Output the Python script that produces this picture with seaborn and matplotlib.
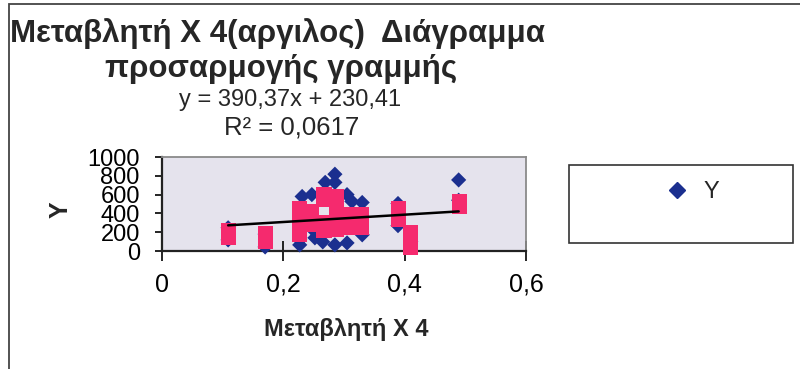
import matplotlib
matplotlib.use("Agg")
import matplotlib.pyplot as plt
from matplotlib import font_manager
from matplotlib.lines import Line2D
from matplotlib.patches import Rectangle
import numpy as np
import pandas as pd
import seaborn as sns

# ---- data -------------------------------------------------------------
# observed Y against clay content (X 4)
y_x = [0.109, 0.109, 0.170, 0.170,
       0.227, 0.227, 0.231, 0.247, 0.249, 0.252,
       0.265, 0.269, 0.285, 0.285, 0.285, 0.290,
       0.305, 0.305, 0.313, 0.330, 0.330,
       0.389, 0.389, 0.410, 0.489, 0.489]
y_val = [247, 118, 43, 180,
         65, 118, 580, 600, 226, 140,
         97, 730, 817, 730, 65, 400,
         600, 86, 527, 516, 172,
         505, 270, 100, 756, 540]

# second series plotted with square markers
p_x = [0.109, 0.109, 0.170, 0.170,
       0.227, 0.227, 0.227, 0.227,
       0.247, 0.247, 0.247,
       0.267, 0.267, 0.267, 0.267, 0.267,
       0.287, 0.287, 0.287, 0.287, 0.287,
       0.310, 0.310, 0.310,
       0.328, 0.328, 0.328,
       0.390, 0.390, 0.410, 0.410, 0.410,
       0.490, 0.490]
p_val = [220, 145, 188, 102,
         449, 360, 270, 181,
         414, 350, 285,
         597, 553, 306, 260, 220,
         575, 490, 400, 310, 231,
         392, 320, 253,
         392, 320, 253,
         446, 339, 199, 120, 38,
         521, 478]

# fitted trend line
slope = 390.37
intercept = 230.41
r_squared = 0.0617

x_ticks = [0, 0.2, 0.4, 0.6]
x_tick_labels = ["0", "0,2", "0,4", "0,6"]
y_ticks = [0, 200, 400, 600, 800, 1000]

title_1 = "Μεταβλητή Χ 4(αργιλος)  Διάγραμμα"
title_2 = "προσαρμογής γραμμής"
x_label = "Μεταβλητή Χ 4"
y_label = "Y"
legend_label = "Y"

# ---- style ------------------------------------------------------------
sns.set_theme(style="white")
names = {f.name for f in font_manager.fontManager.ttflist}
narrow = "Liberation Sans Narrow" if "Liberation Sans Narrow" in names else "Liberation Sans"
plt.rcParams["font.family"] = ["Liberation Sans", "DejaVu Sans"]

navy = "#1B2F8F"
pink = "#F52A6E"

W, H = 800, 369
fig = plt.figure(figsize=(W / 100, H / 100), dpi=100)
fig.patch.set_facecolor("white")

def fx(px):
    return px / W

def fy(py):
    return 1 - py / H

ax = fig.add_axes([fx(162), fy(251), fx(526) - fx(162), fy(157) - fy(251)])
ax.set_facecolor("#E5E3ED")

df_y = pd.DataFrame({"x": y_x, "y": y_val})
df_p = pd.DataFrame({"x": p_x, "y": p_val})
x_line = np.array([min(y_x), max(y_x)])
df_line = pd.DataFrame({"x": x_line, "y": slope * x_line + intercept})

sns.scatterplot(data=df_y, x="x", y="y", marker="D", s=60, color=navy,
                edgecolor="none", ax=ax, zorder=3, clip_on=False)
sns.scatterplot(data=df_p, x="x", y="y", marker="s", s=120, color=pink,
                edgecolor="none", ax=ax, zorder=4, clip_on=False)
sns.lineplot(data=df_line, x="x", y="y", color="black", lw=1.8, ax=ax,
             zorder=5)

ax.set_xlim(0, 0.6)
ax.set_ylim(0, 1000)
ax.set_xticks(x_ticks)
ax.set_xticklabels(x_tick_labels)
ax.set_yticks(y_ticks)
ax.tick_params(axis="x", direction="inout", length=15, width=1.2,
               colors="black", labelsize=18, pad=8, bottom=True)
ax.tick_params(axis="y", direction="out", length=5, width=1.2,
               colors="black", labelsize=17, pad=11, left=True)
for t in ax.get_xticklabels() + ax.get_yticklabels():
    t.set_color("black")

for side in ("left", "bottom"):
    ax.spines[side].set_color("#222222")
    ax.spines[side].set_linewidth(1.6)
for side in ("top", "right"):
    ax.spines[side].set_color("#8A8A8A")
    ax.spines[side].set_linewidth(1.3)

ax.set_xlabel(x_label, fontsize=17, fontweight="bold", family=narrow)
ax.set_ylabel(y_label, fontsize=18, fontweight="bold")
ax.xaxis.set_label_coords((346 - 162) / 364, (251 - 318) / 94)
ax.yaxis.set_label_coords((73 - 162) / 364, (251 - 210) / 94)

# titles and fit annotation
fig.text(fx(10), fy(34), title_1, fontsize=22.5, fontweight="bold",
         family=narrow, ha="left", va="center")
fig.text(fx(281), fy(69), title_2, fontsize=22.5, fontweight="bold",
         family=narrow, ha="center", va="center")
fig.text(fx(290), fy(100), f"y = {slope:.2f}x + {intercept:.2f}".replace(".", ","),
         fontsize=17, family=narrow, ha="center", va="center")
fig.text(fx(292), fy(127), f"R² = {r_squared:.4f}".replace(".", ","),
         fontsize=18.5, family=narrow, ha="center", va="center")

# legend box
fig.patches.append(Rectangle((fx(569), fy(243)), fx(793) - fx(569), fy(165) - fy(243),
                             transform=fig.transFigure, fill=False,
                             edgecolor="#333333", lw=1.2))
handle = Line2D([], [], marker="D", ls="none", color=navy, markersize=8)
fig.legend([handle], [legend_label], loc="center",
           bbox_to_anchor=(fx(692), fy(192)), frameon=False, fontsize=17,
           handletextpad=0.6, handlelength=1.0)

# chart area border
fig.patches.append(Rectangle((fx(9), fy(380)), fx(820) - fx(9), fy(4) - fy(380),
                             transform=fig.transFigure, fill=False,
                             edgecolor="#444444", lw=1.3, clip_on=False))

fig.savefig("out.png", dpi=100)
